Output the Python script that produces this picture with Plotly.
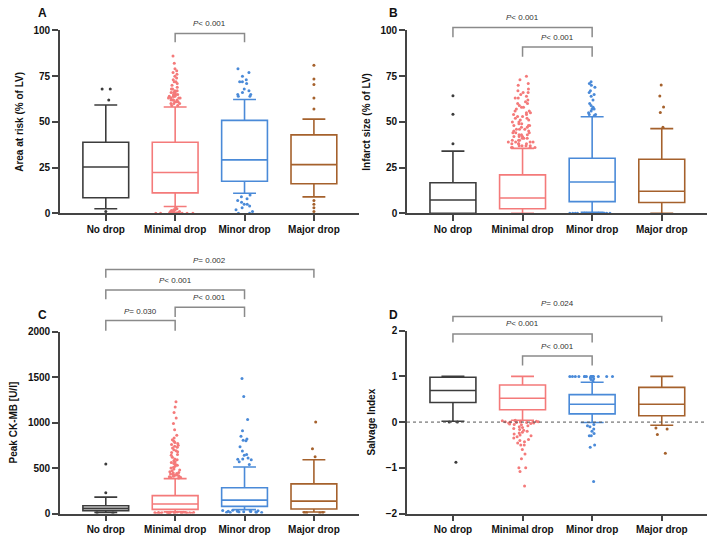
import plotly.graph_objects as go

categories = ["No drop", "Minimal drop", "Minor drop", "Major drop"]
colors = ["#3c3c3c", "#f47a7a", "#4a8ad8", "#a5612c"]

# ---------- Panel A: Area at risk (% of LV)
a_q1 = [8.5, 11.2, 17.5, 16.2]
a_med = [25.3, 22.3, 29.2, 26.6]
a_q3 = [38.9, 38.9, 50.8, 42.9]
a_lo = [2.5, 3.7, 11.0, 9.0]
a_hi = [59.2, 58.1, 62.2, 51.5]
a_out_hi = [
    [68, 68, 62],
    [59, 59, 60, 60, 60, 61, 61, 61, 62, 62, 62, 62, 63, 63, 63, 63, 64, 64, 64, 64,
     65, 65, 65, 66, 66, 66, 67, 67, 68, 68, 69, 70, 71, 72, 72, 73, 74, 75, 76, 77,
     78, 79, 82, 86],
    [79, 77, 75, 73, 72, 72, 71, 68, 67, 66, 65, 65, 64, 64],
    [81, 73.5, 70.5, 63, 57],
]
a_out_lo = [
    [1],
    [0, 0, 0, 0, 0, 0, 0, 0, 0, 0, 0.3, 0.5, 0.5, 0.8, 1, 1, 1, 1.5, 2, 2, 2.5, 3],
    [10, 9, 8, 7, 6, 5, 5, 4, 3, 2, 1, 0, 0],
    [7, 5, 3, 1],
]

# ---------- Panel B: Infarct size (% of LV)
b_q1 = [0, 2.5, 6.4, 5.9]
b_med = [7.3, 8.4, 17.1, 12.1]
b_q3 = [16.7, 21.0, 30.1, 29.6]
b_lo = [0, 0, 0.6, 0]
b_hi = [34.0, 35.5, 52.8, 46.3]
b_out_hi = [
    [64.3, 54.2, 38.1],
    [75, 73, 71, 70, 68, 67, 66, 66, 65, 64, 63, 63, 62, 61, 60, 60, 59, 58, 58, 57,
     56, 56, 55, 55, 54, 54, 53, 53, 52, 52, 51, 51, 50, 50, 49, 49, 48, 48, 48, 47,
     47, 46, 46, 46, 45, 45, 44, 44, 44, 43, 43, 43, 42, 42, 42, 41, 41, 41, 40, 40,
     40, 39, 39, 39, 39, 38, 38, 38, 38, 37, 37, 37, 37, 36, 36, 36, 36],
    [72, 71, 70, 69, 67, 66, 65, 64, 62, 60, 59, 58, 57, 57, 56, 55, 54, 54, 53.5],
    [70.2, 64.2, 58.1, 55.1, 47],
]
b_out_lo = [
    [],
    [],
    [0, 0, 0, 0, 0, 0, 0, 0, 0, 0, 0, 0, 0, 0],
    [],
]

# ---------- Panel C: Peak CK-MB [U/l]
c_q1 = [32, 46, 79, 50]
c_med = [57, 104, 147, 136]
c_q3 = [86, 197, 283, 326]
c_lo = [10, 18, 43, 16]
c_hi = [180, 384, 512, 591]
c_out_hi = [
    [545, 229],
    [1230, 1170, 1110, 1050, 990, 920, 860, 830, 810, 795, 780, 770, 760, 750, 740,
     730, 720, 700, 690, 680, 670, 650, 640, 620, 600, 590, 580, 570, 560, 550, 540,
     530, 520, 510, 500, 490, 480, 470, 460, 450, 445, 440, 435, 430, 425, 420, 415,
     410, 405, 400, 395, 390],
    [1484, 1287, 1035, 910, 850, 820, 806, 800, 734, 688, 650, 641, 610, 600, 598, 590,
     570, 540],
    [1007, 713, 625],
]
c_out_lo = [
    [5, 8],
    [2, 3, 3, 4, 4, 5, 5, 6, 6, 7, 7, 8, 8, 9, 9, 10, 10, 11, 12, 12, 13, 14, 15],
    [10, 12, 12, 15, 18, 18, 20, 22, 25, 25, 28, 30, 30, 32, 35],
    [5, 8, 10, 12],
]

# ---------- Panel D: Salvage Index
d_q1 = [0.43, 0.27, 0.18, 0.14]
d_med = [0.69, 0.52, 0.39, 0.39]
d_q3 = [0.98, 0.81, 0.60, 0.76]
d_lo = [0.02, 0.04, -0.01, -0.07]
d_hi = [1.0, 1.0, 0.87, 1.0]
d_out_hi = [
    [],
    [],
    [1.0, 1.0, 1.0, 1.0, 1.0, 1.0, 1.0, 1.0, 1.0, 1.0, 1.0, 1.0, 1.0, 1.0, 1.0, 1.0,
     0.97, 0.95, 0.93, 0.9],
    [],
]
d_out_lo = [
    [0, 0, -0.88],
    [0.04, 0.03, 0.03, 0.02, 0.02, 0.01, 0.01, 0.0, 0.0, 0.0, -0.01, -0.01, -0.02,
     -0.02, -0.03, -0.04, -0.05, -0.06, -0.08, -0.1, -0.12, -0.14, -0.16, -0.18, -0.2,
     -0.22, -0.24, -0.26, -0.28, -0.3, -0.32, -0.35, -0.38, -0.4, -0.43, -0.46, -0.5,
     -0.5, -0.6, -0.7, -0.8, -1.0, -1.0, -1.08, -1.4],
    [-0.05, -0.08, -0.1, -0.15, -0.2, -0.25, -0.3, -0.3, -0.5, -0.55, -1.3],
    [-0.13, -0.15, -0.27, -0.68],
]

titles = ["Area at risk (% of LV)", "Infarct size (% of LV)", "Peak CK-MB [U/l]", "Salvage Index"]
letters = ["A", "B", "C", "D"]
y_ranges = [[0, 100], [0, 100], [0, 2000], [-2, 2]]
y_ticks = [[0, 25, 50, 75, 100], [0, 25, 50, 75, 100],
           [0, 500, 1000, 1500, 2000], [-2, -1, 0, 1, 2]]

# ---------- layout geometry (pixels)
W, H = 709, 543
px_x = [(60, 359), (407, 707), (60, 359), (407, 707)]
px_y = [(212, 25), (212, 25), (519, 333), (519, 332)]
letter_px = [(42, 7), (393, 7), (42, 316), (393, 316)]

jit_hi = [[0.25, 0.3, 0.45, 0.0], [0.0, 0.7, 0.2, 0.1],
          [0.0, 0.3, 0.4, 0.1], [0.0, 0.0, 1.0, 0.0]]
jit_lo = [[0.0, 1.0, 0.45, 0.0], [0.0, 0.0, 1.0, 0.0],
          [0.6, 1.0, 1.0, 0.5], [0.25, 1.0, 0.3, 0.3]]

panels = [
    (a_q1, a_med, a_q3, a_lo, a_hi, a_out_hi, a_out_lo),
    (b_q1, b_med, b_q3, b_lo, b_hi, b_out_hi, b_out_lo),
    (c_q1, c_med, c_q3, c_lo, c_hi, c_out_hi, c_out_lo),
    (d_q1, d_med, d_q3, d_lo, d_hi, d_out_hi, d_out_lo),
]

FONT = "Liberation Sans, Arial, sans-serif"
AX = "#444444"
BW = 0.66

fig = go.Figure()
layout = dict(
    width=W, height=H, margin=dict(l=0, r=0, t=0, b=0),
    paper_bgcolor="white", plot_bgcolor="white",
    showlegend=False, boxmode="overlay",
    font=dict(family=FONT, color="#222"),
)

def py(p):
    return 1 - p / H

shapes = []
annotations = []

for k, (q1, med, q3, lo, hi, ohi, olo) in enumerate(panels):
    sfx = "" if k == 0 else str(k + 1)
    xa, ya = "x" + sfx, "y" + sfx
    for i, cat in enumerate(categories):
        col = colors[i]
        fig.add_trace(go.Box(
            x=[cat], q1=[q1[i]], median=[med[i]], q3=[q3[i]],
            lowerfence=[lo[i]], upperfence=[hi[i]],
            boxpoints=False, width=BW, whiskerwidth=0.5,
            line=dict(color=col, width=1.6), fillcolor="rgba(255,255,255,0)",
            xaxis=xa, yaxis=ya, hoverinfo="skip"))
        for vals, jit in ((ohi[i], jit_hi[k][i]), (olo[i], jit_lo[k][i])):
            if not vals:
                continue
            fig.add_trace(go.Box(
                x=[cat] * len(vals), y=vals, boxpoints="all", jitter=jit,
                pointpos=0, width=BW,
                marker=dict(color=col, size=3),
                line=dict(color="rgba(0,0,0,0)", width=0),
                fillcolor="rgba(0,0,0,0)",
                xaxis=xa, yaxis=ya, hoverinfo="skip"))
    x0, x1 = px_x[k]
    yb, yt = px_y[k]
    layout["xaxis" + sfx] = dict(
        domain=[x0 / W, x1 / W], anchor=ya, type="category",
        categoryorder="array", categoryarray=categories,
        range=[-0.66, 3.65], showline=True, linecolor=AX, linewidth=1.6,
        ticks="outside", ticklen=6, tickwidth=1.6, tickcolor=AX,
        tickfont=dict(size=10, family=FONT, color="#111", weight="bold"),
        showgrid=False, zeroline=False)
    layout["yaxis" + sfx] = dict(
        domain=[py(yb), py(yt)], anchor=xa, range=y_ranges[k],
        tickvals=y_ticks[k], showline=True, linecolor=AX, linewidth=1.6,
        ticks="outside", ticklen=6, tickwidth=1.6, tickcolor=AX,
        tickfont=dict(size=10, family=FONT, color="#111", weight="bold"),
        title=dict(text=titles[k], standoff=8,
                   font=dict(size=10, family=FONT, color="#111", weight="bold")),
        showgrid=False, zeroline=False)
    lx, ly = letter_px[k]
    annotations.append(dict(text="<b>" + letters[k] + "</b>", xref="paper", yref="paper",
                            x=lx / W, y=py(ly), xanchor="center", yanchor="middle",
                            showarrow=False,
                            font=dict(size=12, family=FONT, color="#111")))

# dotted zero line in D
shapes.append(dict(type="line", xref="x4 domain", yref="y4", x0=0, x1=1, y0=0, y1=0,
                   line=dict(color="#555", width=1, dash="dot")))

# significance brackets: (panel, from, to, bar_px, leg_px, text, text_px)
brackets = [
    (0, 1, 2, 28, 37, "<i>P</i>&lt; 0.001", 18),
    (1, 0, 2, 22, 32, "<i>P</i>&lt; 0.001", 12),
    (1, 1, 2, 42, 52, "<i>P</i>&lt; 0.001", 32),
    (2, 0, 3, 269.5, 278, "<i>P</i>= 0.002", 260),
    (2, 0, 2, 290.5, 300, "<i>P</i>&lt; 0.001", 281),
    (2, 1, 2, 308, 318, "<i>P</i>&lt; 0.001", 298),
    (2, 0, 1, 321.5, 332, "<i>P</i>= 0.030", 312),
    (3, 0, 3, 317.5, 323, "<i>P</i>= 0.024", 304),
    (3, 0, 2, 335.5, 344, "<i>P</i>&lt; 0.001", 325),
    (3, 1, 2, 358, 367.5, "<i>P</i>&lt; 0.001", 348),
]
for k, i0, i1, bar, leg, txt, tpx in brackets:
    xa = "x" if k == 0 else "x" + str(k + 1)
    path = "M {a},{l} L {a},{b} L {c},{b} L {c},{l}".format(
        a=i0, c=i1, b=py(bar), l=py(leg))
    shapes.append(dict(type="path", xref=xa, yref="paper", path=path,
                       line=dict(color="#8a8a8a", width=1.5)))
    annotations.append(dict(text=txt, xref=xa, yref="paper", x=(i0 + i1) / 2,
                            y=py(tpx), xanchor="center", yanchor="middle",
                            showarrow=False,
                            font=dict(size=8, family=FONT, color="#333")))

layout["shapes"] = shapes
layout["annotations"] = annotations
fig.update_layout(**layout)
fig.write_html("out.html", config={"displayModeBar": False},
               post_script="document.body.style.margin='0px';document.body.style.padding='0px';")
